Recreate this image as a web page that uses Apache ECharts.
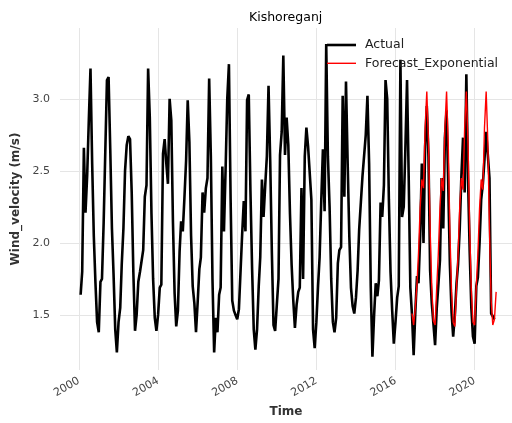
<!DOCTYPE html>
<html>
<head>
<meta charset="utf-8">
<script src="https://cdn.jsdelivr.net/npm/echarts@6/dist/echarts.min.js"></script>
<style>
  html, body { margin: 0; padding: 0; background: #ffffff; }
  #chart { width: 512px; height: 423px; }
</style>
</head>
<body>
<div id="chart"></div>
<script>
// Monthly mean wind velocity (m/s), Kishoreganj, Jan 2000 - Dec 2020 (month-end stamps)
const firstYear = 2000;
const actualWind = [
  1.64, 1.80, 2.66, 2.21, 2.47, 2.85, 3.21, 2.55, 2.05, 1.72, 1.45, 1.38,
  1.73, 1.75, 2.14, 2.15, 3.13, 3.15, 2.65, 2.10, 1.78, 1.40, 1.24, 1.45,
  1.55, 1.85, 2.10, 2.50, 2.68, 2.74, 2.72, 2.35, 1.80, 1.39, 1.50, 1.73,
  1.80, 1.81, 1.95, 2.32, 2.40, 3.21, 2.87, 2.20, 1.75, 1.48, 1.39, 1.50,
  1.69, 1.71, 2.62, 2.72, 2.55, 2.41, 3.00, 2.85, 2.15, 1.65, 1.42, 1.53,
  1.94, 2.15, 2.08, 2.31, 2.57, 2.99, 2.70, 2.05, 1.70, 1.58, 1.38, 1.59,
  1.82, 1.90, 2.35, 2.21, 2.38, 2.45, 3.14, 2.60, 1.75, 1.24, 1.48, 1.38,
  1.64, 1.69, 2.53, 2.08, 2.52, 3.00, 3.24, 2.30, 1.60, 1.53, 1.50, 1.47,
  1.54, 1.55, 2.06, 2.29, 2.08, 2.99, 3.03, 2.36, 1.83, 1.40, 1.26, 1.40,
  1.70, 1.90, 2.44, 2.18, 2.40, 2.60, 3.09, 2.57, 1.94, 1.43, 1.39, 1.57,
  1.75, 2.61, 2.77, 3.30, 2.61, 2.87, 2.68, 2.20, 1.85, 1.60, 1.41, 1.57,
  1.66, 1.69, 2.38, 1.75, 2.60, 2.80, 2.67, 2.67, 2.30, 1.40, 1.27, 1.45,
  1.70, 1.90, 2.30, 2.65, 2.22, 3.38, 2.60, 2.25, 1.75, 1.45, 1.38, 1.48,
  1.86, 1.95, 1.97, 3.02, 2.32, 3.12, 2.55, 2.04, 1.69, 1.56, 1.51, 1.62,
  1.81, 2.09, 2.09, 2.46, 2.46, 2.75, 3.02, 2.55, 1.70, 1.21, 1.49, 1.72,
  1.63, 1.74, 2.28, 2.18, 2.40, 3.13, 3.00, 2.30, 1.80, 1.53, 1.30, 1.45,
  1.62, 1.70, 3.27, 2.18, 2.25, 2.65, 3.13, 2.45, 1.69, 1.50, 1.22, 1.52,
  1.77, 1.72, 2.05, 2.55, 2.00, 2.67, 2.95, 2.60, 1.81, 1.58, 1.44, 1.29,
  1.55, 1.70, 1.88, 2.45, 2.10, 2.73, 2.92, 2.40, 1.85, 1.52, 1.35, 1.50,
  1.72, 1.85, 2.10, 2.46, 2.73, 2.35, 3.17, 2.45, 1.95, 1.55, 1.35, 1.30,
  1.70, 1.76, 2.00, 2.30, 2.41, 2.58, 2.77, 2.77, 2.45, 1.51, 1.51, 1.47
];

// Exponential smoothing forecast, Oct 2016 - Jan 2021
const forecastStartIndex = 201;
const forecastWind = [
  1.51, 1.43, 1.55,
  1.72, 1.93, 2.25, 2.44, 2.38, 2.80, 3.05, 2.70, 2.10, 1.69, 1.46, 1.43,
  1.70, 1.92, 2.24, 2.45, 2.36, 2.80, 3.05, 2.68, 2.08, 1.66, 1.45, 1.42,
  1.70, 1.92, 2.25, 2.45, 2.37, 2.80, 3.05, 2.69, 2.10, 1.67, 1.45, 1.43,
  1.71, 1.92, 2.24, 2.44, 2.37, 2.80, 3.05, 2.70, 2.09, 1.60, 1.43, 1.47,
  1.66
];

const seriesNames = ['Actual', 'Forecast_Exponential'];
const seriesColors = ['#000000', '#ff0000'];
const seriesWidths = [2.6, 1.4];
const xTickYears = [2000, 2004, 2008, 2012, 2016, 2020];
const yTicks = [1.5, 2.0, 2.5, 3.0];

const YEAR_MS = 365.25 * 86400000;
// end of the k-th month counted from January of firstYear
function monthEnd(k) { return Date.UTC(firstYear, k + 1, 0); }

const actualData = actualWind.map((v, k) => [monthEnd(k), v]);
const forecastData = forecastWind.map((v, j) => [monthEnd(forecastStartIndex + j), v]);

// visible time window of the plot area (timestamps on a linear axis)
const xMin = Date.UTC(2000, 0, 1) - 0.9606 * YEAR_MS;
const xMax = Date.UTC(2020, 0, 1) + 1.886 * YEAR_MS;
const xTickValues = xTickYears.map(y => Date.UTC(y, 0, 1));

const gridColor = '#e5e5e5';
const font = 'DejaVu Sans';

// frameless legend: a line sample followed by the series name
const legendLeft = 327, legendTop = 45, legendRow = 18.3;
const legendGraphics = [];
seriesNames.forEach((name, i) => {
  const y = legendTop + i * legendRow;
  legendGraphics.push({
    type: 'line',
    shape: { x1: legendLeft, y1: y, x2: legendLeft + 29, y2: y },
    style: { stroke: seriesColors[i], lineWidth: seriesWidths[i] },
    z: 100
  });
  legendGraphics.push({
    type: 'text',
    x: legendLeft + 38,
    y: y,
    style: {
      text: name,
      fill: '#222',
      font: '12.5px "DejaVu Sans"',
      verticalAlign: 'middle',
      align: 'left'
    },
    z: 100
  });
});

const chart = echarts.init(document.getElementById('chart'), null, { renderer: 'canvas' });
chart.setOption({
  animation: false,
  backgroundColor: '#ffffff',
  textStyle: { fontFamily: font },
  title: {
    text: 'Kishoreganj',
    left: 244,
    top: 6,
    textStyle: { fontFamily: font, fontSize: 12.5, fontWeight: 'normal', color: '#000' }
  },
  graphic: legendGraphics,
  grid: { left: 60, right: 0, top: 28, bottom: 53 },
  xAxis: {
    type: 'value',
    min: xMin,
    max: xMax,
    name: 'Time',
    nameLocation: 'middle',
    nameGap: 36,
    nameTextStyle: { fontFamily: font, fontSize: 12, fontWeight: 'bold', color: '#333' },
    axisLine: { show: false },
    axisTick: { show: false, customValues: xTickValues },
    axisLabel: {
      customValues: xTickValues,
      rotate: 30,
      margin: 10,
      fontFamily: font,
      fontSize: 11,
      color: '#444',
      formatter: v => String(new Date(v).getUTCFullYear())
    },
    splitLine: { show: true, lineStyle: { color: gridColor, width: 1 } }
  },
  yAxis: {
    type: 'value',
    min: 1.118,
    max: 3.491,
    name: 'Wind_velocity (m/s)',
    nameLocation: 'middle',
    nameGap: 27,
    nameTextStyle: { fontFamily: font, fontSize: 12, fontWeight: 'bold', color: '#333' },
    axisLine: { show: false },
    axisTick: { show: false, customValues: yTicks },
    axisLabel: {
      customValues: yTicks,
      margin: 10,
      fontFamily: font,
      fontSize: 11,
      color: '#444',
      formatter: v => v.toFixed(1)
    },
    splitLine: { show: true, lineStyle: { color: gridColor, width: 1 } }
  },
  series: [
    {
      name: seriesNames[0],
      type: 'line',
      data: actualData,
      symbol: 'none',
      lineStyle: { color: seriesColors[0], width: seriesWidths[0] },
      itemStyle: { color: seriesColors[0] }
    },
    {
      name: seriesNames[1],
      type: 'line',
      data: forecastData,
      symbol: 'none',
      lineStyle: { color: seriesColors[1], width: seriesWidths[1] },
      itemStyle: { color: seriesColors[1] }
    }
  ]
});
</script>
</body>
</html>
